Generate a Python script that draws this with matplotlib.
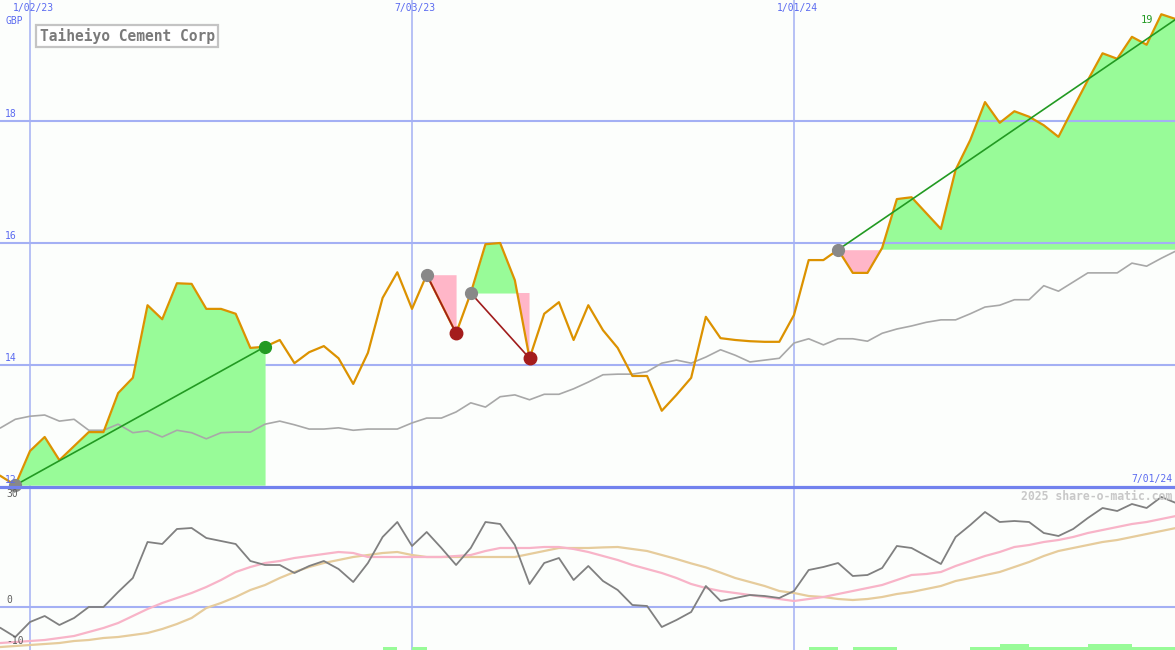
import matplotlib
matplotlib.use("Agg")
import matplotlib.pyplot as plt
import matplotlib.dates as mdates
import numpy as np
import pandas as pd

# ---------------- data ----------------
dates = pd.date_range("2022-12-19", periods=81, freq="7D")

price = [12.18, 12.03, 12.59, 12.82, 12.44, 12.67, 12.90, 12.90, 13.54, 13.79,
         14.98, 14.75, 15.34, 15.33, 14.92, 14.92, 14.84, 14.28, 14.30, 14.41,
         14.03, 14.21, 14.31, 14.11, 13.69, 14.20, 15.10, 15.52, 14.92, 15.48,
         15.00, 14.52, 15.18, 15.98, 16.00, 15.39, 14.11, 14.84, 15.03, 14.41,
         14.98, 14.57, 14.28, 13.82, 13.82, 13.25, 13.51, 13.79, 14.79, 14.44,
         14.41, 14.39, 14.38, 14.38, 14.82, 15.72, 15.72, 15.89, 15.51, 15.51,
         15.92, 16.72, 16.75, 16.49, 16.23, 17.20, 17.69, 18.31, 17.97, 18.16,
         18.07, 17.93, 17.74, 18.21, 18.67, 19.11, 19.02, 19.38, 19.25, 19.75, 19.67]

moving_avg = [12.97, 13.11, 13.16, 13.18, 13.08, 13.11, 12.93, 12.93, 13.03, 12.89,
              12.92, 12.82, 12.93, 12.89, 12.79, 12.89, 12.90, 12.90, 13.03, 13.08,
              13.02, 12.95, 12.95, 12.97, 12.93, 12.95, 12.95, 12.95, 13.05, 13.13,
              13.13, 13.23, 13.38, 13.31, 13.48, 13.51, 13.43, 13.52, 13.52, 13.61,
              13.72, 13.84, 13.85, 13.85, 13.89, 14.03, 14.08, 14.03, 14.13, 14.25,
              14.16, 14.05, 14.08, 14.11, 14.36, 14.43, 14.33, 14.43, 14.43, 14.39,
              14.52, 14.59, 14.64, 14.70, 14.74, 14.74, 14.84, 14.95, 14.98, 15.07,
              15.07, 15.30, 15.21, 15.36, 15.51, 15.51, 15.51, 15.67, 15.62, 15.75, 15.87]

oscillator = [-5.25, -7.5, -3.75, -2.25, -4.5, -2.75, 0, 0, 3.75, 7.25,
              16.25, 15.75, 19.5, 19.75, 17.25, 16.5, 15.75, 11.5, 10.5, 10.5,
              8.5, 10.25, 11.5, 9.5, 6.25, 11, 17.5, 21.25, 15.25, 18.75,
              14.75, 10.5, 14.75, 21.25, 20.75, 15.5, 5.75, 11, 12.25, 6.75,
              10.25, 6.5, 4.25, 0.5, 0.25, -5, -3.25, -1.25, 5.25, 1.5,
              2.25, 3, 2.75, 2.25, 4, 9.25, 10, 11, 7.75, 8,
              9.75, 15.25, 14.75, 12.75, 10.75, 17.5, 20.5, 23.75, 21.25, 21.5,
              21.25, 18.5, 17.75, 19.5, 22.25, 24.75, 24, 25.75, 24.75, 27.5, 26]

osc_fast = [-9, -8.75, -8.5, -8.25, -7.75, -7.25, -6.25, -5.25, -4, -2.25,
            -0.5, 1, 2.25, 3.5, 5, 6.75, 8.75, 10, 11, 11.5,
            12.25, 12.75, 13.25, 13.75, 13.5, 12.5, 12.5, 12.5, 12.5, 12.5,
            12.5, 12.75, 13, 14, 14.75, 14.75, 14.75, 15, 15, 14.5,
            13.75, 12.75, 11.75, 10.5, 9.5, 8.5, 7.25, 5.75, 4.75, 4,
            3.5, 3, 2.5, 2, 1.5, 2, 2.5, 3.25, 4, 4.75,
            5.5, 6.75, 8, 8.25, 8.75, 10.25, 11.5, 12.75, 13.75, 15,
            15.5, 16.25, 16.75, 17.5, 18.5, 19.25, 20, 20.75, 21.25, 22, 22.75]

osc_slow = [-10, -9.75, -9.5, -9.25, -9, -8.5, -8.25, -7.75, -7.5, -7,
            -6.5, -5.5, -4.25, -2.75, -0.25, 1, 2.5, 4.25, 5.5, 7.25,
            8.75, 10, 11, 11.75, 12.5, 13, 13.5, 13.75, 13, 12.5,
            12.5, 12.5, 12.5, 12.5, 12.5, 12.5, 13.25, 14, 14.75, 14.75,
            14.75, 14.9, 15, 14.5, 14, 13, 12, 10.9, 9.9, 8.6,
            7.25, 6.25, 5.25, 4, 3.5, 2.75, 2.5, 2, 1.75, 2,
            2.5, 3.25, 3.75, 4.5, 5.25, 6.5, 7.25, 8, 8.75, 10,
            11.25, 12.75, 14, 14.75, 15.5, 16.25, 16.75, 17.5, 18.25, 19, 19.75]

signal_bars = [0, 0, 0, 0, 0, 0, 0, 0, 0, 0,
               0, 0, 0, 0, 0, 0, 0, 0, 0, 0,
               0, 0, 0, 0, 0, 0, 0.75, 0, 0.75, 0,
               0, 0, 0, 0, 0, 0, 0, 0, 0, 0,
               0, 0, 0, 0, 0, 0, 0, 0, 0, 0,
               0, 0, 0, 0, 0, 0.75, 0.75, 0, 0.75, 0.75,
               0.75, 0, 0, 0, 0, 0, 0.75, 0.75, 1.5, 1.5,
               0.75, 0.75, 0.75, 0.75, 1.5, 1.5, 1.5, 0.75, 0.75, 0.75, 0]

up_trends = [(1, 18, True), (57, 80, False)]     # (start, end, end marker)
down_trends = [(29, 31), (32, 36)]

price_ticks = [12, 14, 16, 18]
osc_ticks = [30, 0, -10]
date_ticks = ["2023-01-02", "2023-07-03", "2024-01-01"]
date_labels = ["1/02/23", "7/03/23", "1/01/24"]
currency = "GBP"
title = "Taiheiyo Cement Corp"
watermark = "2025 share-o-matic.com"
last_label = "19"
right_date_label = "7/01/24"

# ---------------- style ----------------
W, H = 1175, 650
split = 487
bg = "#fcfefc"
grid_c = "#a4b0f4"
div_c = "#7282ee"
lab_c = "#5a6af0"
orange = "#dc9200"
green_fill = "#98fb98"
pink_fill = "#ffb6c8"
mono = "DejaVu Sans Mono"

px_per_day = 382 / 182
x0 = mdates.date2num(pd.Timestamp("2023-01-02")) - 30 / px_per_day
x1 = x0 + W / px_per_day

fig = plt.figure(figsize=(W / 100, H / 100), dpi=100, facecolor=bg)
ax1 = fig.add_axes([0, (H - split) / H, 1, split / H], facecolor=bg)
ax2 = fig.add_axes([0, 0, 1, (H - split) / H], facecolor=bg)
for ax in (ax1, ax2):
    ax.set_axis_off()
    ax.set_xlim(x0, x1)
ax1.set_ylim(12, 12 + split / 61)
ax2.set_ylim(-10.75, 30)

xd = mdates.date2num(dates)
p = np.array(price)

# grid
for t in price_ticks[1:]:
    ax1.axhline(t, color=grid_c, lw=1.5, zorder=1)
ax2.axhline(0, color=grid_c, lw=1.5, zorder=1)
ax2.axhline(30, color=div_c, lw=2.3, zorder=6, clip_on=False)
for d in date_ticks:
    xv = mdates.date2num(pd.Timestamp(d))
    ax1.axvline(xv, color=grid_c, lw=1.1, zorder=1)
    ax2.axvline(xv, color=grid_c, lw=1.1, zorder=1)

# trend fills
def trend_fill(s, e, z):
    xs = xd[s:e + 1]
    ps = p[s:e + 1]
    lvl = p[s]
    ax1.fill_between(xs, ps, lvl, where=ps >= lvl, interpolate=True,
                     color=green_fill, lw=0, zorder=z)
    ax1.fill_between(xs, ps, lvl, where=ps <= lvl, interpolate=True,
                     color=pink_fill, lw=0, zorder=z)

for s, e, _ in up_trends:
    trend_fill(s, e, 2 if e < 60 else 0.5)
for s, e in down_trends:
    trend_fill(s, e, 2)

# lines
ax1.plot(xd, moving_avg, color="#a8a8a8", lw=1.2, zorder=3)
ax1.plot(xd, price, color=orange, lw=1.6, zorder=4)

for s, e, mark in up_trends:
    ax1.plot([xd[s], xd[e]], [p[s], p[e]], color="#229a22", lw=1.2, zorder=5)
    ax1.plot(xd[s], p[s], "o", color="#888888", ms=8.5, zorder=7, clip_on=False)
    if mark:
        ax1.plot(xd[e], p[e], "o", color="#229a22", ms=8.5, zorder=7)
for s, e in down_trends:
    ax1.plot([xd[s], xd[e]], [p[s], p[e]], color="#a01c1c", lw=1.2, zorder=5)
    ax1.plot(xd[s], p[s], "o", color="#888888", ms=8.5, zorder=7)
    ax1.plot(xd[e], p[e], "o", color="#a41c1c", ms=9, zorder=7)

# lower panel
ax2.bar(xd, signal_bars, width=7, align="edge", bottom=-10.75,
        color=green_fill, lw=0, zorder=2)
ax2.plot(xd, osc_slow, color="#e6cc9c", lw=1.6, zorder=3)
ax2.plot(xd, osc_fast, color="#f8b4c8", lw=1.6, zorder=3)
ax2.plot(xd, oscillator, color="#808080", lw=1.3, zorder=4)

# labels
ty1 = ax1.get_yaxis_transform()
for t in price_ticks:
    ax1.text(5 / W, t + 7 / 61, str(t), transform=ty1, fontsize=7,
             family=mono, color=lab_c, ha="left", va="center", zorder=8)
ax1.text(5 / W, 1 - 20.5 / split, currency, transform=ax1.transAxes, fontsize=7,
         family=mono, color=lab_c, ha="left", va="center", zorder=8)
tx1 = ax1.get_xaxis_transform()
for d, lab in zip(date_ticks, date_labels):
    xv = mdates.date2num(pd.Timestamp(d)) + 3 / px_per_day
    ax1.text(xv, 1 - 8 / split, lab, transform=tx1, fontsize=7, family=mono,
             color=lab_c, ha="center", va="center", zorder=8)
ax1.text(1172 / W, 8 / split, right_date_label, transform=ax1.transAxes,
         fontsize=7, family=mono, color=lab_c, ha="right", va="center", zorder=8)

ty2 = ax2.get_yaxis_transform()
osc_lab_y = {30: 30 - 7 / 4, 0: 7 / 4, -10: -10 + 6 / 4}
for t in osc_ticks:
    ax2.text(6 / W, osc_lab_y[t], str(t), transform=ty2, fontsize=7,
             family=mono, color="#606060", ha="left", va="center", zorder=8)

ax2.text(1172 / W, 1 - 9 / (H - split), watermark, transform=ax2.transAxes,
         fontsize=8.3, family=mono, fontweight="bold", color="#c8c8c8",
         ha="right", va="center", zorder=8)

ax1.text(1153 / W, 1 - 20 / split, last_label, transform=ax1.transAxes,
         fontsize=7.5, family=mono, color="#229a22", ha="right", va="center",
         zorder=8)

ax1.text(127 / W, 1 - 36 / split, title, transform=ax1.transAxes,
         fontsize=10.5, family=mono, fontweight="bold", color="#7a7a7a",
         ha="center", va="center", zorder=9,
         bbox=dict(boxstyle="square,pad=0.22", fc="white", ec="#c4c4c4", lw=1.6))

fig.savefig("out.png", dpi=100, facecolor=bg)
